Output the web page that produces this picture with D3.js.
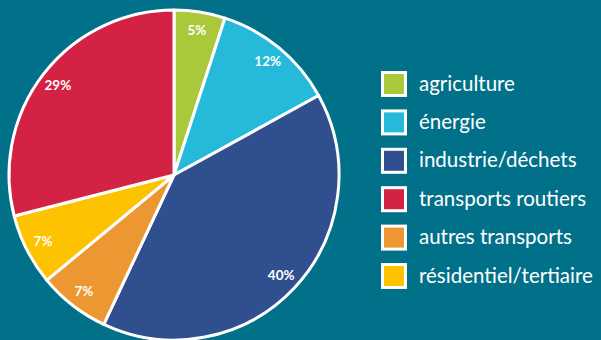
<!DOCTYPE html>
<html>
<head>
<meta charset="utf-8">
<script src="https://cdn.jsdelivr.net/npm/d3@7"></script>
<style>
  html, body { margin: 0; padding: 0; background: #01718a; }
  svg { display: block; }
</style>
</head>
<body>
<svg id="chart" width="601" height="340"></svg>
<script>
// données (ordre du camembert, sens horaire depuis midi)
const sectors = ['agriculture', 'énergie', 'industrie/déchets', 'autres transports', 'résidentiel/tertiaire', 'transports routiers'];
const shares = [5, 12, 40, 7, 7, 29];
const colors = ['#a9c93b', '#25b9da', '#304f8f', '#ec9731', '#fdc200', '#d42244'];
// ordre de la légende
const legendOrder = ['agriculture', 'énergie', 'industrie/déchets', 'transports routiers', 'autres transports', 'résidentiel/tertiaire'];

const svg = d3.select('#chart');
const cx = 174, cy = 175, radius = 165;

const colorScale = d3.scaleOrdinal().domain(sectors).range(colors);

const pie = d3.pie().sort(null).value((d, i) => shares[i]);
const arcs = pie(sectors);

const arc = d3.arc().innerRadius(0).outerRadius(radius);
const labelArc = d3.arc().innerRadius(147).outerRadius(147);

const g = svg.append('g').attr('transform', `translate(${cx},${cy})`);

g.selectAll('path')
  .data(arcs)
  .enter()
  .append('path')
  .attr('d', arc)
  .attr('fill', d => colorScale(d.data))
  .attr('stroke', '#fff')
  .attr('stroke-width', 3)
  .attr('stroke-linejoin', 'round');

// étiquettes de pourcentage
g.selectAll('text')
  .data(arcs)
  .enter()
  .append('text')
  .attr('transform', d => `translate(${labelArc.centroid(d)})`)
  .attr('text-anchor', 'middle')
  .attr('dy', '0.35em')
  .attr('fill', '#fff')
  .attr('font-family', 'Lato, sans-serif')
  .attr('font-weight', 'bold')
  .attr('font-size', '13.5px')
  .text((d, i) => shares[i] + '%');

// légende
const legendY = d3.scalePoint()
  .domain(legendOrder)
  .range([84, 276]);

const legend = svg.append('g')
  .selectAll('g')
  .data(legendOrder)
  .enter()
  .append('g')
  .attr('transform', d => `translate(382,${legendY(d)})`);

legend.append('rect')
  .attr('x', 0.5)
  .attr('y', -11.5)
  .attr('width', 23)
  .attr('height', 23)
  .attr('fill', d => colorScale(d))
  .attr('stroke', '#fff')
  .attr('stroke-width', 3);

legend.append('text')
  .attr('x', 37)
  .attr('dy', '0.32em')
  .attr('fill', '#fff')
  .attr('font-family', 'Lato, sans-serif')
  .attr('font-size', '20.5px')
  .text(d => d);
</script>
</body>
</html>
